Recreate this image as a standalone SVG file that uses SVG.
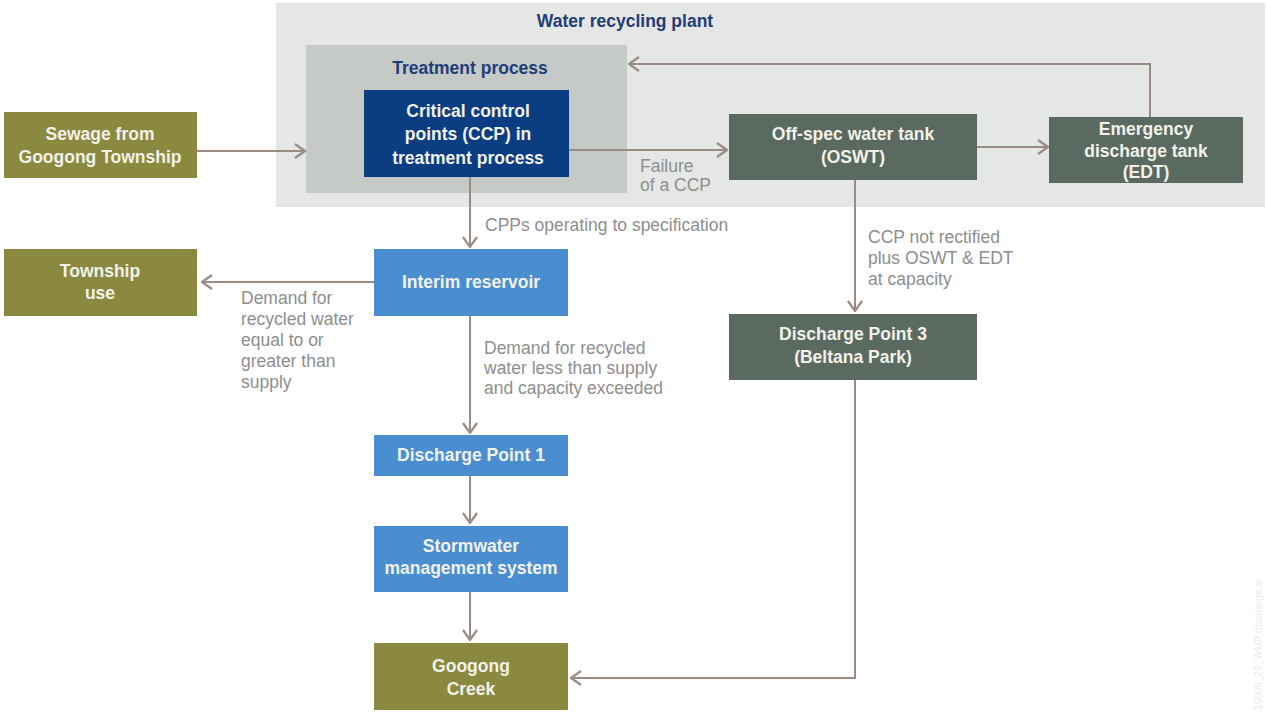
<svg xmlns="http://www.w3.org/2000/svg" width="1266" height="714" viewBox="0 0 1266 714">
<defs>
<marker id="ah" viewBox="0 0 12 16" refX="11" refY="8" markerWidth="12" markerHeight="16" markerUnits="userSpaceOnUse" orient="auto">
<path d="M1,1 L11,8 L1,15" fill="none" stroke="#9a8c82" stroke-width="2.2"/>
</marker>
<style>
.t{font-family:"Liberation Sans",Arial,sans-serif;font-weight:bold;font-size:17.5px;text-anchor:middle;}
.w{fill:#f2f2ea;}
.hd{font-family:"Liberation Sans",Arial,sans-serif;font-weight:bold;font-size:17.5px;text-anchor:middle;fill:#1f3d78;}
.lb{font-family:"Liberation Sans",Arial,sans-serif;font-size:17.5px;fill:#8e8e8e;}
.c{fill:none;stroke:#9a8c82;stroke-width:2;}
.olive{fill:#8a893f;}
.slate{fill:#5b6a60;}
.navy{fill:#0b3d83;}
.blue{fill:#4a8ed0;}
</style>
</defs>
<rect width="1266" height="714" fill="#ffffff"/>
<g id="plant">
<rect x="276" y="3" width="989" height="204" fill="#e4e7e5"/>
<text class="hd" x="625" y="27">Water recycling plant</text>
</g>
<g id="treatment">
<rect x="306" y="45" width="321" height="148" fill="#c5cac7"/>
<text class="hd" x="470" y="74">Treatment process</text>
</g>
<g id="connectors">
<line class="c" x1="197" y1="151" x2="305" y2="151" marker-end="url(#ah)"/>
<line class="c" x1="569" y1="150" x2="727" y2="150" marker-end="url(#ah)"/>
<line class="c" x1="977" y1="147" x2="1048" y2="147" marker-end="url(#ah)"/>
<polyline class="c" points="1150,117 1150,64 629,64" marker-end="url(#ah)"/>
<line class="c" x1="470" y1="177" x2="470" y2="247" marker-end="url(#ah)"/>
<line class="c" x1="374" y1="282" x2="202" y2="282" marker-end="url(#ah)"/>
<line class="c" x1="470" y1="316" x2="470" y2="433" marker-end="url(#ah)"/>
<line class="c" x1="470" y1="476" x2="470" y2="523" marker-end="url(#ah)"/>
<line class="c" x1="470" y1="592" x2="470" y2="640" marker-end="url(#ah)"/>
<line class="c" x1="855" y1="180" x2="855" y2="311" marker-end="url(#ah)"/>
<polyline class="c" points="855,380 855,678 571,678" marker-end="url(#ah)"/>
<text class="lb" x="640" y="172">Failure</text>
<text class="lb" x="640" y="191">of a CCP</text>
<text class="lb" x="485" y="231">CPPs operating to specification</text>
<text class="lb" x="241" y="304">Demand for</text>
<text class="lb" x="241" y="325">recycled water</text>
<text class="lb" x="241" y="346">equal to or</text>
<text class="lb" x="241" y="367">greater than</text>
<text class="lb" x="241" y="388">supply</text>
<text class="lb" x="484" y="354">Demand for recycled</text>
<text class="lb" x="484" y="374">water less than supply</text>
<text class="lb" x="484" y="394">and capacity exceeded</text>
<text class="lb" x="868" y="243">CCP not rectified</text>
<text class="lb" x="868" y="264">plus OSWT &amp; EDT</text>
<text class="lb" x="868" y="285">at capacity</text>
</g>
<g id="sewage">
<rect class="olive" x="4" y="112" width="193" height="66"/>
<text class="t w" x="100" y="140">Sewage from</text>
<text class="t w" x="100" y="163">Googong Township</text>
</g>
<g id="ccp">
<rect class="navy" x="364" y="90" width="205" height="87"/>
<text class="t w" x="468" y="117">Critical control</text>
<text class="t w" x="468" y="140">points (CCP) in</text>
<text class="t w" x="468" y="164">treatment process</text>
</g>
<g id="oswt">
<rect class="slate" x="729" y="114" width="248" height="66"/>
<text class="t w" x="853" y="140">Off-spec water tank</text>
<text class="t w" x="853" y="163">(OSWT)</text>
</g>
<g id="edt">
<rect class="slate" x="1049" y="117" width="194" height="66"/>
<text class="t w" x="1146" y="135">Emergency</text>
<text class="t w" x="1146" y="157">discharge tank</text>
<text class="t w" x="1146" y="178">(EDT)</text>
</g>
<g id="interim">
<rect class="blue" x="374" y="249" width="194" height="67"/>
<text class="t w" x="471" y="288">Interim reservoir</text>
</g>
<g id="township">
<rect class="olive" x="4" y="249" width="193" height="67"/>
<text class="t w" x="100" y="277">Township</text>
<text class="t w" x="100" y="299">use</text>
</g>
<g id="dp1">
<rect class="blue" x="374" y="435" width="194" height="41"/>
<text class="t w" x="471" y="461">Discharge Point 1</text>
</g>
<g id="stormwater">
<rect class="blue" x="374" y="526" width="194" height="66"/>
<text class="t w" x="471" y="552">Stormwater</text>
<text class="t w" x="471" y="574">management system</text>
</g>
<g id="creek">
<rect class="olive" x="374" y="643" width="194" height="67"/>
<text class="t w" x="471" y="672">Googong</text>
<text class="t w" x="471" y="695">Creek</text>
</g>
<g id="dp3">
<rect class="slate" x="729" y="314" width="248" height="66"/>
<text class="t w" x="853" y="340">Discharge Point 3</text>
<text class="t w" x="853" y="363">(Beltana Park)</text>
</g>
<text x="1262" y="710" transform="rotate(-90 1262 710)" font-family="Liberation Sans, Arial, sans-serif" font-size="10" fill="#ebebeb">15009_29_WMP discharge.ai</text>
</svg>
